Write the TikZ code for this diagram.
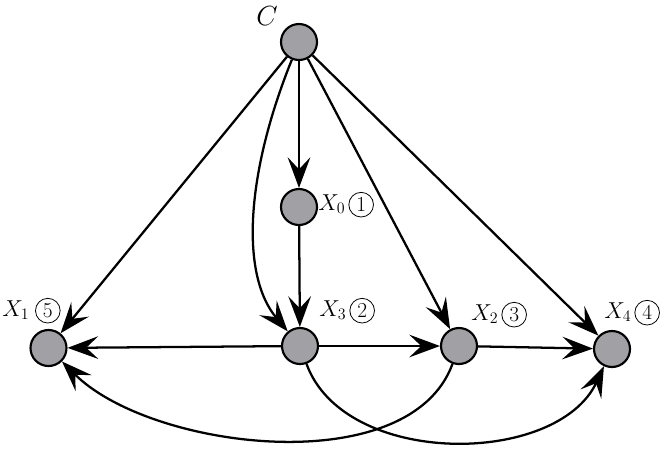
\documentclass[tikz,border=0pt]{standalone}
\usetikzlibrary{arrows.meta}
\definecolor{nodegray}{RGB}{160,160,165}
\begin{document}
\begin{tikzpicture}[x=0.75pt,y=-0.75pt,
  vtx/.style={circle,draw=black,fill=nodegray,line width=1.6pt,minimum size=27pt,inner sep=0pt},
  edge/.style={line width=1.7pt,-{Stealth[length=23pt,width=17pt,inset=9pt]}},
  lab/.style={inner sep=0pt,font=\fontsize{17.5}{19}\selectfont},
  cnum/.style={circle,draw=black,line width=0.6pt,minimum size=18.5pt,inner sep=0pt,font=\fontsize{16}{16}\selectfont}]
\useasboundingbox (0,0) rectangle (664,451);
% vertices
\node[vtx] (C)  at (299,42) {};
\node[vtx] (X0) at (299,207) {};
\node[vtx] (X1) at (48.5,348) {};
\node[vtx] (X3) at (300,346) {};
\node[vtx] (X2) at (459,346) {};
\node[vtx] (X4) at (612,349) {};
% labels
\node[inner sep=0pt,font=\fontsize{21}{22}\selectfont,anchor=base west] (lC) at (256,25) {$C$};
\node[lab,anchor=base west] (l0) at (318,210) {$X_0$};
\node[cnum,anchor=west] (n0) at ([xshift=2pt,yshift=4pt]l0.base east) {1};
\node[lab,anchor=base west] (l1) at (2,316) {$X_1$};
\node[cnum,anchor=west] (n1) at ([xshift=4pt,yshift=4pt]l1.base east) {5};
\node[lab,anchor=base west] (l3) at (319,316) {$X_3$};
\node[cnum,anchor=west] (n3) at ([xshift=2pt,yshift=4pt]l3.base east) {2};
\node[lab,anchor=base west] (l2) at (471,320) {$X_2$};
\node[cnum,anchor=west] (n2) at ([xshift=2pt,yshift=4pt]l2.base east) {3};
\node[lab,anchor=base west] (l4) at (604,318) {$X_4$};
\node[cnum,anchor=west] (n4) at ([xshift=2pt,yshift=4pt]l4.base east) {4};
% edges
\draw[edge] (C) -- (X0);
\draw[edge] (C) -- (X1);
\draw[edge] (C) -- (X2);
\draw[edge] (C) -- (X4);
\draw[edge] (C) to[out=-112,in=130,out looseness=1.15,in looseness=0.7] (X3);
\draw[edge] (X0) -- (X3);
\draw[edge] (X3) -- (X1);
\draw[edge] (X3) -- (X2);
\draw[edge] (X2) -- (X4);
\draw[edge] (X3) to[out=-70,in=-115,looseness=0.95] (X4);
\draw[edge] (X2) to[out=-110,in=-45,looseness=0.82] (X1);
\end{tikzpicture}
\end{document}
